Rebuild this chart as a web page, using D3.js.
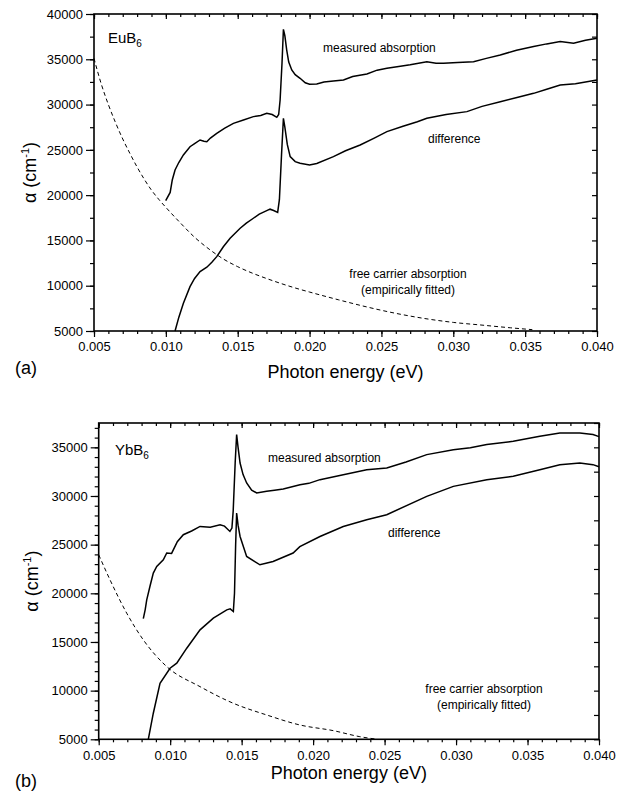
<!DOCTYPE html>
<html><head><meta charset="utf-8">
<script src="https://cdn.jsdelivr.net/npm/d3@7"></script>
<style>body{margin:0;background:#fff}svg{display:block}text{font-family:"Liberation Sans",Arial,sans-serif;fill:#000}</style>
</head><body><svg id="c" width="635" height="793"></svg>
<script>
// ---- data (x: photon energy eV, y: alpha cm^-1) ----
const xTicks = [0.005,0.010,0.015,0.020,0.025,0.030,0.035,0.040];
const yTicksA = [5000,10000,15000,20000,25000,30000,35000,40000];
const yTicksB = [5000,10000,15000,20000,25000,30000,35000];

const euMeasured = [[0.00999,19390],[0.0103,20300],[0.01045,21700],[0.01064,22780],[0.0109,23600],[0.01122,24440],[0.01168,25350],[0.012,25700],[0.01238,26090],[0.01265,25950],[0.01285,25900],[0.0131,26300],[0.01354,26830],[0.0141,27400],[0.0147,27930],[0.0154,28300],[0.01609,28670],[0.0166,28800],[0.01702,29040],[0.0174,28900],[0.01772,28590],[0.01785,28900],[0.01795,30510],[0.01808,34500],[0.01818,38310],[0.01828,37600],[0.01841,36020],[0.01855,34700],[0.01876,33820],[0.019,33300],[0.01934,32900],[0.0197,32400],[0.0200,32240],[0.0205,32280],[0.0210,32500],[0.02166,32600],[0.02236,32715],[0.0230,33100],[0.02399,33377],[0.0247,33800],[0.02538,34000],[0.0262,34200],[0.0270,34400],[0.02816,34735],[0.0288,34550],[0.02932,34550],[0.0303,34650],[0.03141,34735],[0.0323,35100],[0.03327,35475],[0.0344,36000],[0.03559,36400],[0.0365,36700],[0.03744,36950],[0.03837,36770],[0.0392,37100],[0.0400,37317]];
const euDifference = [[0.01064,5000],[0.0109,6500],[0.01122,8070],[0.01168,9900],[0.012,10800],[0.01238,11560],[0.01285,12040],[0.0132,12600],[0.01354,13210],[0.0140,14300],[0.01447,15240],[0.01517,16340],[0.0156,16900],[0.01609,17450],[0.0165,17900],[0.01702,18290],[0.01725,18450],[0.0175,18300],[0.01778,18100],[0.0179,19500],[0.01805,24500],[0.01818,28490],[0.01828,27500],[0.01845,25600],[0.01865,24250],[0.019,23700],[0.01934,23520],[0.0200,23333],[0.0205,23500],[0.02166,24250],[0.0225,24900],[0.02352,25540],[0.0245,26300],[0.02538,27010],[0.0265,27600],[0.0275,28100],[0.02816,28490],[0.0295,28900],[0.03095,29220],[0.0320,29800],[0.03327,30320],[0.0345,30800],[0.03559,31240],[0.0365,31700],[0.03744,32160],[0.0385,32300],[0.0400,32715]];
const euFreeCarrier = [[0.005,35100],[0.0055,32300],[0.006,30000],[0.0065,28000],[0.007,26200],[0.0075,24600],[0.008,23100],[0.0085,21750],[0.009,20550],[0.0095,19550],[0.010,18650],[0.011,16950],[0.012,15350],[0.013,14050],[0.014,12950],[0.015,12100],[0.016,11400],[0.017,10800],[0.018,10250],[0.019,9750],[0.020,9300],[0.022,8450],[0.024,7650],[0.026,6950],[0.028,6380],[0.030,5950],[0.032,5650],[0.034,5350],[0.0355,5150]];

const ybMeasured = [[0.00812,17400],[0.00825,18300],[0.00836,19330],[0.0086,20800],[0.00882,22080],[0.00906,22760],[0.00952,23450],[0.00976,24140],[0.0101,24100],[0.0105,25300],[0.01092,26020],[0.0115,26400],[0.01209,26870],[0.0128,26800],[0.01349,27050],[0.0138,26900],[0.01418,26360],[0.01432,26700],[0.01441,28500],[0.01455,33500],[0.01465,36307],[0.01475,35000],[0.01489,33390],[0.0151,32200],[0.01535,31340],[0.0157,30600],[0.01605,30310],[0.01675,30480],[0.0173,30600],[0.01791,30720],[0.01908,31150],[0.0197,31300],[0.02048,31680],[0.02211,32190],[0.02375,32700],[0.02515,32880],[0.0265,33500],[0.02795,34250],[0.02981,34760],[0.0310,34950],[0.03215,35280],[0.034,35620],[0.03586,36130],[0.03726,36480],[0.03866,36480],[0.03958,36310],[0.0400,36100]];
const ybDifference = [[0.00847,5000],[0.00882,7680],[0.00929,10760],[0.00999,12300],[0.01046,12820],[0.01116,14360],[0.01209,16250],[0.01302,17450],[0.01396,18300],[0.0142,18400],[0.01442,18130],[0.0145,20000],[0.01458,25000],[0.01465,28250],[0.01475,27000],[0.01489,25840],[0.01535,23790],[0.01628,22930],[0.0172,23270],[0.0186,24140],[0.01907,24800],[0.02048,25840],[0.02211,26870],[0.02375,27560],[0.02515,28080],[0.02795,29960],[0.02981,30990],[0.03215,31680],[0.034,32020],[0.03586,32700],[0.03726,33220],[0.03866,33390],[0.03958,33220],[0.0400,33000]];
const ybFreeCarrier = [[0.005,23960],[0.00579,21390],[0.00696,17960],[0.00812,15220],[0.00976,12470],[0.01209,10410],[0.01442,8700],[0.01675,7500],[0.01908,6470],[0.02141,5890],[0.02327,5270],[0.0245,5000]];

const svg = d3.select("#c");

function panel(cfg){
  const x = d3.scaleLinear().domain([0.005,0.040]).range([cfg.left,cfg.right]);
  const y = d3.scaleLinear().domain(cfg.yDomain).range([cfg.bottom,cfg.top]);
  const g = svg.append("g");
  const fmt = d3.format(".3f");
  const minorX = d3.range(5,41,1).map(v=>v/1000);
  g.append("g").attr("transform",`translate(0,${cfg.bottom})`)
    .call(d3.axisBottom(x).tickValues(minorX).tickSize(3).tickFormat(""))
    .call(a=>a.select(".domain").remove());
  g.append("g").attr("transform",`translate(0,${cfg.bottom})`)
    .call(d3.axisBottom(x).tickValues(xTicks).tickSize(6).tickPadding(5).tickFormat(fmt))
    .call(a=>a.select(".domain").remove())
    .call(a=>a.selectAll("text").attr("font-size",13).attr("font-family","Liberation Sans, Arial, sans-serif"));
  g.append("g").attr("transform",`translate(0,${cfg.top})`)
    .call(d3.axisBottom(x).tickValues(minorX).tickSize(3).tickFormat(""))
    .call(a=>a.select(".domain").remove());
  g.append("g").attr("transform",`translate(0,${cfg.top})`)
    .call(d3.axisBottom(x).tickValues(xTicks).tickSize(5).tickFormat(""))
    .call(a=>a.select(".domain").remove());
  g.append("g").attr("transform",`translate(${cfg.left},0)`)
    .call(d3.axisLeft(y).tickValues(d3.range(cfg.yDomain[0],cfg.yDomain[1]+1,cfg.minorStep)).tickSize(4).tickFormat(""))
    .call(a=>a.select(".domain").remove());
  g.append("g").attr("transform",`translate(${cfg.left},0)`)
    .call(d3.axisLeft(y).tickValues(cfg.yTicks).tickSize(8).tickPadding(3).tickFormat(d3.format("d")))
    .call(a=>a.select(".domain").remove())
    .call(a=>a.selectAll("text").attr("font-size",13).attr("font-family","Liberation Sans, Arial, sans-serif"));
  g.append("g").attr("transform",`translate(${cfg.right},0)`)
    .call(d3.axisLeft(y).tickValues(d3.range(cfg.yDomain[0],cfg.yDomain[1]+1,2500)).tickSize(5).tickFormat(""))
    .call(a=>a.select(".domain").remove());
  g.selectAll(".tick line").attr("stroke","#000").attr("stroke-width",1.2);
  g.append("rect").attr("x",cfg.left).attr("y",cfg.top).attr("width",cfg.right-cfg.left).attr("height",cfg.bottom-cfg.top)
    .attr("fill","none").attr("stroke","#000").attr("stroke-width",1.6);
  const line = d3.line().x(d=>x(d[0])).y(d=>y(d[1]));
  g.append("path").datum(cfg.measured).attr("d",line).attr("fill","none").attr("stroke","#000").attr("stroke-width",1.5);
  g.append("path").datum(cfg.difference).attr("d",line).attr("fill","none").attr("stroke","#000").attr("stroke-width",1.5);
  g.append("path").datum(cfg.free).attr("d",d3.line().x(d=>x(d[0])).y(d=>y(d[1])).curve(d3.curveMonotoneX))
    .attr("fill","none").attr("stroke","#000").attr("stroke-width",1).attr("stroke-dasharray","4,3");
  const t = g.append("text").attr("x",cfg.matX).attr("y",cfg.matY).attr("font-size",15);
  t.append("tspan").text(cfg.material);
  t.append("tspan").attr("font-size",10).attr("dy",4).text("6");
  g.append("text").attr("x",cfg.measX).attr("y",cfg.measY).attr("font-size",12).text("measured absorption");
  g.append("text").attr("x",cfg.diffX).attr("y",cfg.diffY).attr("font-size",12).text("difference");
  g.append("text").attr("x",cfg.freeX).attr("y",cfg.freeY).attr("font-size",12).attr("text-anchor","middle").text("free carrier absorption");
  g.append("text").attr("x",cfg.freeX).attr("y",cfg.freeY+16).attr("font-size",12).attr("text-anchor","middle").text("(empirically fitted)");
  g.append("text").attr("x",(cfg.left+cfg.right)/2).attr("y",cfg.xTitleY).attr("font-size",18).attr("text-anchor","middle").text("Photon energy (eV)");
  g.append("text").attr("x",15).attr("y",cfg.labelY).attr("font-size",18).text(cfg.label);
  const yt = g.append("text").attr("transform",`translate(${cfg.yTitleX},${(cfg.top+cfg.bottom)/2}) rotate(-90)`)
    .attr("font-size",18).attr("text-anchor","middle");
  yt.append("tspan").text("\u03b1 (cm");
  yt.append("tspan").attr("font-size",11).attr("dy",-7).text("-1");
  yt.append("tspan").attr("dy",7).text(")");
}

panel({left:94,right:597,top:14,bottom:331,yDomain:[5000,40000],yTicks:yTicksA,minorStep:2500,
  measured:euMeasured,difference:euDifference,free:euFreeCarrier,material:"EuB",matX:108,matY:43,
  measX:323,measY:52,diffX:428,diffY:143,freeX:408,freeY:278,xTitleY:378,label:"(a)",labelY:374,yTitleX:36});
panel({left:98.7,right:599,top:423,bottom:739.3,yDomain:[5000,37500],yTicks:yTicksB,minorStep:1000,
  measured:ybMeasured,difference:ybDifference,free:ybFreeCarrier,material:"YbB",matX:115,matY:455,
  measX:268,measY:462,diffX:388,diffY:537,freeX:484,freeY:693,xTitleY:779,label:"(b)",labelY:787,yTitleX:38});
</script></body></html>
